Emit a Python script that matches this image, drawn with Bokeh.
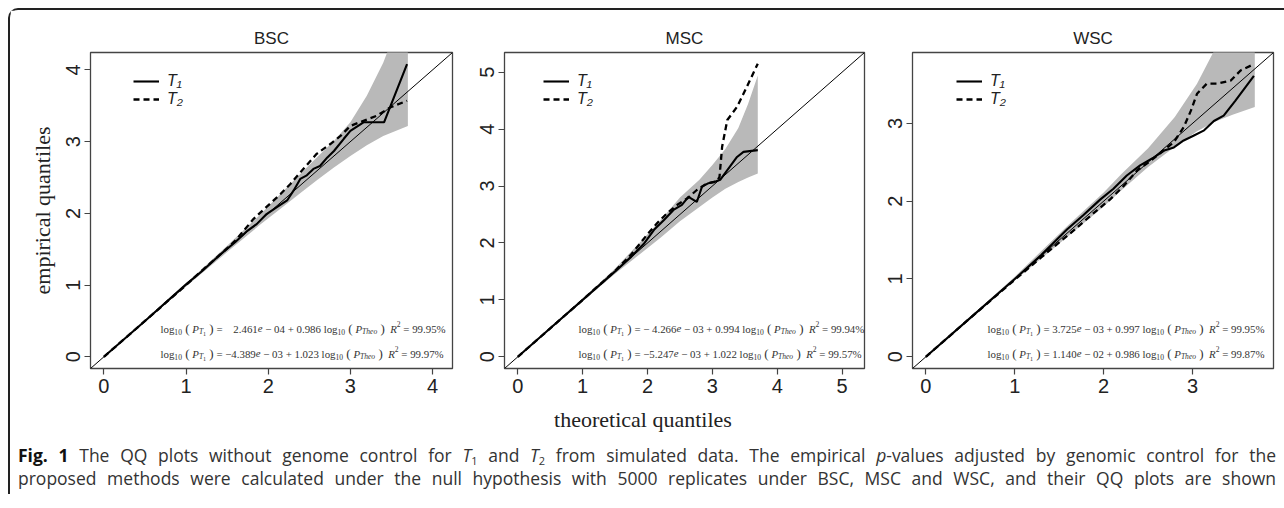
from bokeh.plotting import figure
from bokeh.models import Range1d, FixedTicker, Legend, LegendItem, ColumnDataSource, Div, Slope
from bokeh.layouts import row, column
from bokeh.embed import file_html
from bokeh.resources import INLINE
from bokeh.core.properties import value

# ---------------- data ----------------
titles = ["BSC", "MSC", "WSC"]
axis_limits = [4.08, 5.14, 3.76]
x_ticks = [[0, 1, 2, 3, 4], [0, 1, 2, 3, 4, 5], [0, 1, 2, 3]]
y_ticks = [[0, 1, 2, 3, 4], [0, 1, 2, 3, 4, 5], [0, 1, 2, 3]]

# BSC
bsc_t1_x = [0, 0.5, 1.0, 1.2, 1.4, 1.6, 1.75, 1.86, 1.98, 2.11, 2.23, 2.31, 2.39, 2.47, 2.55, 2.63, 2.72, 2.80, 2.92, 3.0, 3.16, 3.41, 3.69]
bsc_t1_y = [0, 0.5, 1.01, 1.2, 1.41, 1.6, 1.76, 1.85, 1.99, 2.09, 2.18, 2.32, 2.48, 2.53, 2.62, 2.66, 2.78, 2.87, 3.04, 3.15, 3.27, 3.27, 4.08]
bsc_t2_x = [0, 0.5, 1.0, 1.2, 1.4, 1.6, 1.82, 1.98, 2.15, 2.27, 2.39, 2.59, 2.76, 2.88, 3.0, 3.16, 3.32, 3.49, 3.69]
bsc_t2_y = [0, 0.5, 1.0, 1.21, 1.41, 1.62, 1.92, 2.09, 2.27, 2.41, 2.57, 2.83, 2.97, 3.08, 3.22, 3.29, 3.36, 3.48, 3.57]
bsc_band_x = [0, 1.0, 1.5, 1.9, 2.2, 2.4, 2.6, 2.8, 3.0, 3.2, 3.4, 3.55, 3.7]
bsc_band_up = [0, 1.02, 1.55, 1.98, 2.33, 2.56, 2.79, 3.01, 3.27, 3.64, 4.10, 4.55, 5.0]
bsc_band_lo = [0, 0.98, 1.46, 1.84, 2.11, 2.29, 2.47, 2.64, 2.80, 2.95, 3.08, 3.15, 3.22]

# MSC
msc_t1_x = [0, 0.5, 1.0, 1.5, 1.75, 1.94, 2.10, 2.25, 2.40, 2.53, 2.63, 2.76, 2.84, 2.94, 3.05, 3.12, 3.38, 3.48, 3.70]
msc_t1_y = [0, 0.5, 1.0, 1.5, 1.76, 1.98, 2.23, 2.40, 2.58, 2.67, 2.81, 2.72, 2.99, 3.05, 3.08, 3.11, 3.51, 3.60, 3.63]
msc_t2_x = [0, 0.5, 1.0, 1.5, 1.75, 1.99, 2.15, 2.30, 2.46, 2.61, 2.76, 2.92, 3.07, 3.11, 3.15, 3.23, 3.38, 3.53, 3.70]
msc_t2_y = [0, 0.5, 1.0, 1.51, 1.80, 2.14, 2.35, 2.52, 2.67, 2.78, 2.93, 3.05, 3.08, 3.16, 3.69, 4.16, 4.39, 4.74, 5.15]
msc_band_x = [0, 1.0, 1.5, 1.9, 2.2, 2.5, 2.8, 3.0, 3.2, 3.4, 3.55, 3.7]
msc_band_up = [0, 1.02, 1.55, 2.03, 2.40, 2.80, 3.11, 3.37, 3.65, 4.02, 4.44, 4.94]
msc_band_lo = [0, 0.98, 1.46, 1.82, 2.09, 2.38, 2.63, 2.80, 2.95, 3.07, 3.15, 3.22]

# WSC
wsc_t1_x = [0, 0.5, 1.0, 1.3, 1.59, 1.77, 1.96, 2.11, 2.26, 2.41, 2.56, 2.68, 2.79, 2.90, 3.01, 3.13, 3.24, 3.35, 3.48, 3.69]
wsc_t1_y = [0, 0.5, 1.0, 1.31, 1.64, 1.82, 2.02, 2.16, 2.33, 2.46, 2.56, 2.65, 2.69, 2.78, 2.84, 2.91, 3.03, 3.10, 3.29, 3.61]
wsc_t2_x = [0, 0.5, 1.0, 1.3, 1.5, 1.66, 1.89, 2.07, 2.22, 2.38, 2.53, 2.64, 2.79, 2.90, 2.98, 3.05, 3.16, 3.28, 3.43, 3.54, 3.69]
wsc_t2_y = [0, 0.5, 0.99, 1.28, 1.47, 1.62, 1.85, 2.02, 2.19, 2.40, 2.52, 2.62, 2.76, 2.95, 3.16, 3.38, 3.51, 3.51, 3.55, 3.68, 3.76]
wsc_band_x = [0, 1.0, 1.6, 2.0, 2.2, 2.5, 2.8, 3.05, 3.25, 3.45, 3.7]
wsc_band_up = [0, 1.03, 1.69, 2.11, 2.35, 2.68, 3.08, 3.51, 3.95, 4.4, 4.9]
wsc_band_lo = [0, 0.98, 1.55, 1.93, 2.14, 2.44, 2.70, 2.90, 3.02, 3.11, 3.21]

# regression annotations (two rows per panel)
eq_intercepts = [["\u2002\u00a02.461", "\u22124.389"], ["\u2212\u00a04.266", "\u22125.247"], ["3.725", "1.140"]]
eq_exponents = [["04", "03"], ["03", "03"], ["03", "02"]]
eq_slopes = [["0.986", "1.023"], ["0.994", "1.022"], ["0.997", "0.986"]]
eq_r2 = [["99.95%", "99.97%"], ["99.94%", "99.57%"], ["99.95%", "99.87%"]]

series = [
    (bsc_t1_x, bsc_t1_y, bsc_t2_x, bsc_t2_y, bsc_band_x, bsc_band_up, bsc_band_lo),
    (msc_t1_x, msc_t1_y, msc_t2_x, msc_t2_y, msc_band_x, msc_band_up, msc_band_lo),
    (wsc_t1_x, wsc_t1_y, wsc_t2_x, wsc_t2_y, wsc_band_x, wsc_band_up, wsc_band_lo),
]

# ---------------- layout constants ----------------
FRAME_H = 316
frame_w = [362, 360, 361]
border_l = [80, 34, 34]
border_r = [18, 14, 3]
legend_dx = [43, 39, 44]
eq_dx = [70, 74, 75]          # equation start, px from frame left
eq_dy = [276, 301]            # row centres, px from frame top
EQ_W = 277                    # target width of a row, px
NB = "\u00a0"

TIMES_W = {'.': .25, ' ': .25, NB: .25, '\u2002': .5, '(': .333, ')': .333, '=': .564, '+': .564,
           '\u2212': .564, '%': .833, 'l': .278, 'o': .5, 'g': .5, 'e': .444, 'h': .5,
           'P': .611, 'T': .556, 'R': .611}


def tw(s, size):
    return sum(TIMES_W.get(c, 0.5) for c in s) * size


def eq_pieces(icpt, expo, slope, r2, fs):
    S, SS, B = fs * 0.7, fs * 0.55, fs * 1.2
    seq = [
        ("log", fs, "normal", 0), ("10", S, "normal", 0.3 * fs), (NB + "(", B, "normal", 0),
        (NB + "P", fs, "italic", 0), ("T", S, "italic", 0.3 * fs), ("1", SS, "normal", 0.48 * fs),
        (NB + ")", B, "normal", 0), (NB + "=" + NB + icpt, fs, "normal", 0), ("e", fs, "italic", 0),
        (NB + "\u2212" + NB + expo + NB + "+" + NB + slope + NB, fs, "normal", 0),
        ("log", fs, "normal", 0), ("10", S, "normal", 0.3 * fs), (NB + "(", B, "normal", 0),
        (NB + "P", fs, "italic", 0), ("Theo", S, "italic", 0.3 * fs), (NB + ")", B, "normal", 0),
        (NB + NB + "R", fs, "italic", 0), ("2", S, "normal", -0.4 * fs),
        (NB + "=" + NB + r2, fs, "normal", 0),
    ]
    out, xo = [], 0.0
    for txt, size, style, dy in seq:
        out.append((txt, size, style, xo, dy))
        xo += tw(txt, size)
    return out, xo


AXIS_COL = "#444444"
TXT_COL = "#222222"

figs = []
for i, title in enumerate(titles):
    t1x, t1y, t2x, t2y, bx, bup, blo = series[i]
    L = axis_limits[i]
    pad = 0.04 * L
    x0, x1 = -pad, L + pad
    y0, y1 = -pad, L + pad
    p = figure(frame_width=frame_w[i], frame_height=FRAME_H,
               x_range=Range1d(x0, x1), y_range=Range1d(y0, y1),
               output_backend="svg", toolbar_location=None,
               min_border_left=border_l[i], min_border_right=border_r[i],
               min_border_top=42, min_border_bottom=34,
               background_fill_color="white", border_fill_color="white")
    p.title.text = title
    p.title.align = "center"
    p.title.text_font = "Liberation Sans"
    p.title.text_font_size = "17px"
    p.title.text_font_style = "normal"
    p.title.text_color = TXT_COL
    p.title.standoff = 9
    p.grid.visible = False
    p.outline_line_color = AXIS_COL
    p.outline_line_width = 1.3

    for ax, ticks in ((p.xaxis[0], x_ticks[i]), (p.yaxis[0], y_ticks[i])):
        ax.ticker = FixedTicker(ticks=ticks)
        ax.axis_line_color = None
        ax.major_tick_out = 6
        ax.major_tick_in = 0
        ax.minor_tick_line_color = None
        ax.major_tick_line_color = AXIS_COL
        ax.major_tick_line_width = 1.2
        ax.major_label_text_font = "Liberation Sans"
        ax.major_label_text_font_size = "20px"
        ax.major_label_text_color = TXT_COL
        ax.major_label_standoff = 4
    p.yaxis[0].major_label_orientation = "vertical"
    if i == 0:
        p.yaxis[0].axis_label = "empirical quantiles"
        p.yaxis[0].axis_label_text_font = "Liberation Serif"
        p.yaxis[0].axis_label_text_font_size = "22px"
        p.yaxis[0].axis_label_text_font_style = "normal"
        p.yaxis[0].axis_label_text_color = TXT_COL
        p.yaxis[0].axis_label_standoff = 9

    p.varea(x=bx, y1=blo, y2=bup, fill_color="#b9b9b9", fill_alpha=1.0)
    p.add_layout(Slope(gradient=1, y_intercept=0, line_color="black", line_width=1))
    r1 = p.line(t1x, t1y, line_color="black", line_width=2.1)
    r2 = p.line(t2x, t2y, line_color="black", line_width=2.3, line_dash="6 4")

    leg = Legend(items=[LegendItem(label="T\u2081", renderers=[r1]),
                        LegendItem(label="T\u2082", renderers=[r2])],
                 location=(legend_dx[i], FRAME_H - 20 - 36),
                 label_text_font="Liberation Sans", label_text_font_style="italic",
                 label_text_font_size="16px", label_text_color=TXT_COL,
                 glyph_width=26, glyph_height=18, label_height=18, label_standoff=8,
                 spacing=0, padding=0, margin=0,
                 border_line_color=None, background_fill_alpha=0)
    p.add_layout(leg)

    # regression equations
    _, w_unit = eq_pieces(eq_intercepts[2][0], eq_exponents[2][0], eq_slopes[2][0], eq_r2[2][0], 1.0)
    fs = EQ_W / w_unit
    xs_data = x0 + eq_dx[i] / frame_w[i] * (x1 - x0)
    groups = {}
    for r in range(2):
        yd = y1 - eq_dy[r] / FRAME_H * (y1 - y0)
        pcs, _ = eq_pieces(eq_intercepts[i][r], eq_exponents[i][r], eq_slopes[i][r], eq_r2[i][r], fs)
        for txt, size, style, xo, dy in pcs:
            key = (round(size, 2), style)
            g = groups.setdefault(key, dict(x=[], y=[], text=[], xo=[], yo=[]))
            g["x"].append(xs_data); g["y"].append(yd); g["text"].append(txt)
            g["xo"].append(xo); g["yo"].append(dy)
    for (size, style), g in groups.items():
        p.text(x="x", y="y", text="text", x_offset="xo", y_offset="yo",
               source=ColumnDataSource(g), text_font=value("Liberation Serif"),
               text_font_size=value(f"{size}px"), text_font_style=value(style),
               text_color="#333333", text_baseline="middle", text_align="left")
    figs.append(p)

xlabel = Div(text="<div style=\"width:1266px;text-align:center;font-family:'Liberation Serif';"
                  "font-size:22px;line-height:36px;color:#222\">theoretical quantiles</div>",
             width=1266, height=36, margin=0)

line_style = ("display:block;width:1258px;height:23px;line-height:23px;text-align:justify;"
              "text-align-last:justify;white-space:normal;overflow:visible;")
sub = "<span style='font-size:11px;vertical-align:-3px;line-height:0'>{}</span>"
caption_html = (
    "<div style=\"font-family:'Open Sans';font-size:17.5px;color:#333;"
    "padding-top:6px;padding-left:8px;\">"
    f"<div style=\"{line_style}\"><b style='color:#111'>Fig. 1</b> The QQ plots without genome control for "
    f"<i>T</i>{sub.format('1')} and <i>T</i>{sub.format('2')} "
    "from simulated data. The empirical <i>p</i>-values adjusted by genomic control for the</div>"
    f"<div style=\"{line_style}\">proposed methods were calculated under the null hypothesis with 5000 "
    "replicates under BSC, MSC and WSC, and their QQ plots are shown</div>"
    "</div>")
caption = Div(text=caption_html, width=1266, height=56, margin=0)

layout = column(row(*figs, spacing=0), xlabel, caption, spacing=0,
                styles={"margin-left": "8px", "margin-top": "8px", "padding-right": "8px",
                        "border-left": "2px solid #222", "border-top": "2px solid #222",
                        "border-top-left-radius": "10px"})

open("out.html", "w").write(file_html(layout, INLINE))
